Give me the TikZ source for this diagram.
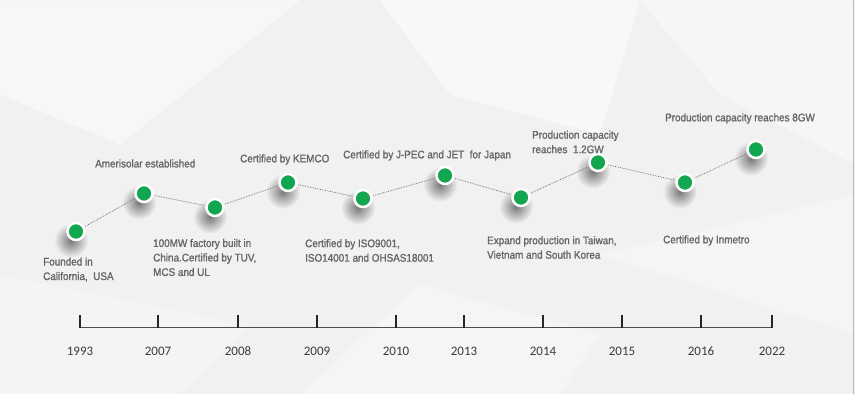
\documentclass[tikz,border=0pt]{standalone}
\usepackage{fontspec}
\setmainfont{Liberation Sans}
\newfontfamily\eventfont[FakeStretch=0.9,FakeBold=1.3]{Liberation Sans}
\newfontfamily\yearfont{Carlito}
\usetikzlibrary{fadings}
\tikzfading[name=soft spot, inner color=transparent!0, outer color=transparent!100]
\definecolor{dotgreen}{HTML}{13A650}
\definecolor{eventgray}{HTML}{666666}
\definecolor{yeargray}{HTML}{3C3C3C}
\definecolor{bggray}{HTML}{F1F1F1}

\begin{document}
\begin{tikzpicture}[x=1pt,y=1pt,
  dot/.style={circle,fill=dotgreen,draw=white,line width=2.5pt,minimum size=17pt,inner sep=0pt},
  halo/.style={black,opacity=.5,path fading=soft spot},
  link/.style={gray!80!black,densely dotted,line width=0.7pt,shorten >=1pt,shorten <=1pt},
  event/.style={font=\eventfont\fontsize{11}{14.5}\selectfont,text=eventgray,align=left,anchor=west,inner sep=0pt},
  year/.style={font=\yearfont\fontsize{13}{15}\selectfont,text=yeargray,inner sep=0pt},
  tick/.style={black!85,line width=1.8pt}]

% background
\fill[bggray] (0,0) rectangle (855,394);
\fill[white,opacity=.45] (0,394) -- (300,394) -- (120,250) -- (0,300) -- cycle;
\fill[white,opacity=.5] (380,394) -- (640,394) -- (600,260) -- (450,300) -- cycle;
\fill[white,opacity=.4] (640,394) -- (855,394) -- (855,230) -- (720,300) -- cycle;
\fill[white,opacity=.3] (420,110) -- (600,60) -- (560,0) -- (300,0) -- cycle;
\fill[white,opacity=.25] (0,120) -- (250,70) -- (180,0) -- (0,0) -- cycle;
\fill[white,opacity=.3] (600,140) -- (855,200) -- (855,60) -- cycle;
\draw[gray!55,line width=1pt] (853.5,0) -- (853.5,394);

% time axis
\draw[black!70,line width=1pt] (80,67) -- (772,67);
\foreach \x/\yr in {80/1993, 158/2007, 238/2008, 317/2009, 396/2010,
                    464/2013, 543/2014, 622/2015, 701/2016, 772/2022} {
  \draw[tick] (\x,66.5) -- ++(0,13);
  \node[year] (y\yr) at (\x,43) {\yr};
};

% milestones
\foreach \n/\x/\y in {1/76/163, 2/144/201, 3/215/187, 4/288/212, 5/363/196,
                      6/445/219, 7/521/197, 8/598/232, 9/685/212, 10/756/245} {
  \fill[halo] (\x-5,\y-9) circle (17);
  \node[dot] (d\n) at (\x,\y) {};
};
\foreach \a/\b in {1/2, 2/3, 3/4, 4/5, 5/6, 6/7, 7/8, 8/9, 9/10} {
  \draw[link] (d\a) -- (d\b);
};

\node[event] (e1) at (43,125) {Founded in\\California,\enspace USA};
\node[event] (e2) at (95,231) {Amerisolar established};
\node[event] (e3) at (153,137) {100MW factory built in\\China.Certified by TUV,\\MCS and UL};
\node[event] (e4) at (240,235) {Certified by KEMCO};
\node[event] (e5) at (305,144) {Certified by ISO9001,\\ISO14001 and OHSAS18001};
\node[event] (e6) at (343,239) {Certified by J-PEC and JET\ \ for Japan};
\node[event] (e7) at (487,147) {Expand production in Taiwan,\\Vietnam and South Korea};
\node[event] (e8) at (532,252.5) {Production capacity\\reaches\ \ 1.2GW};
\node[event] (e9) at (663,154) {Certified by Inmetro};
\node[event] (e10) at (665,276) {Production capacity reaches 8GW};
\end{tikzpicture}
\end{document}
